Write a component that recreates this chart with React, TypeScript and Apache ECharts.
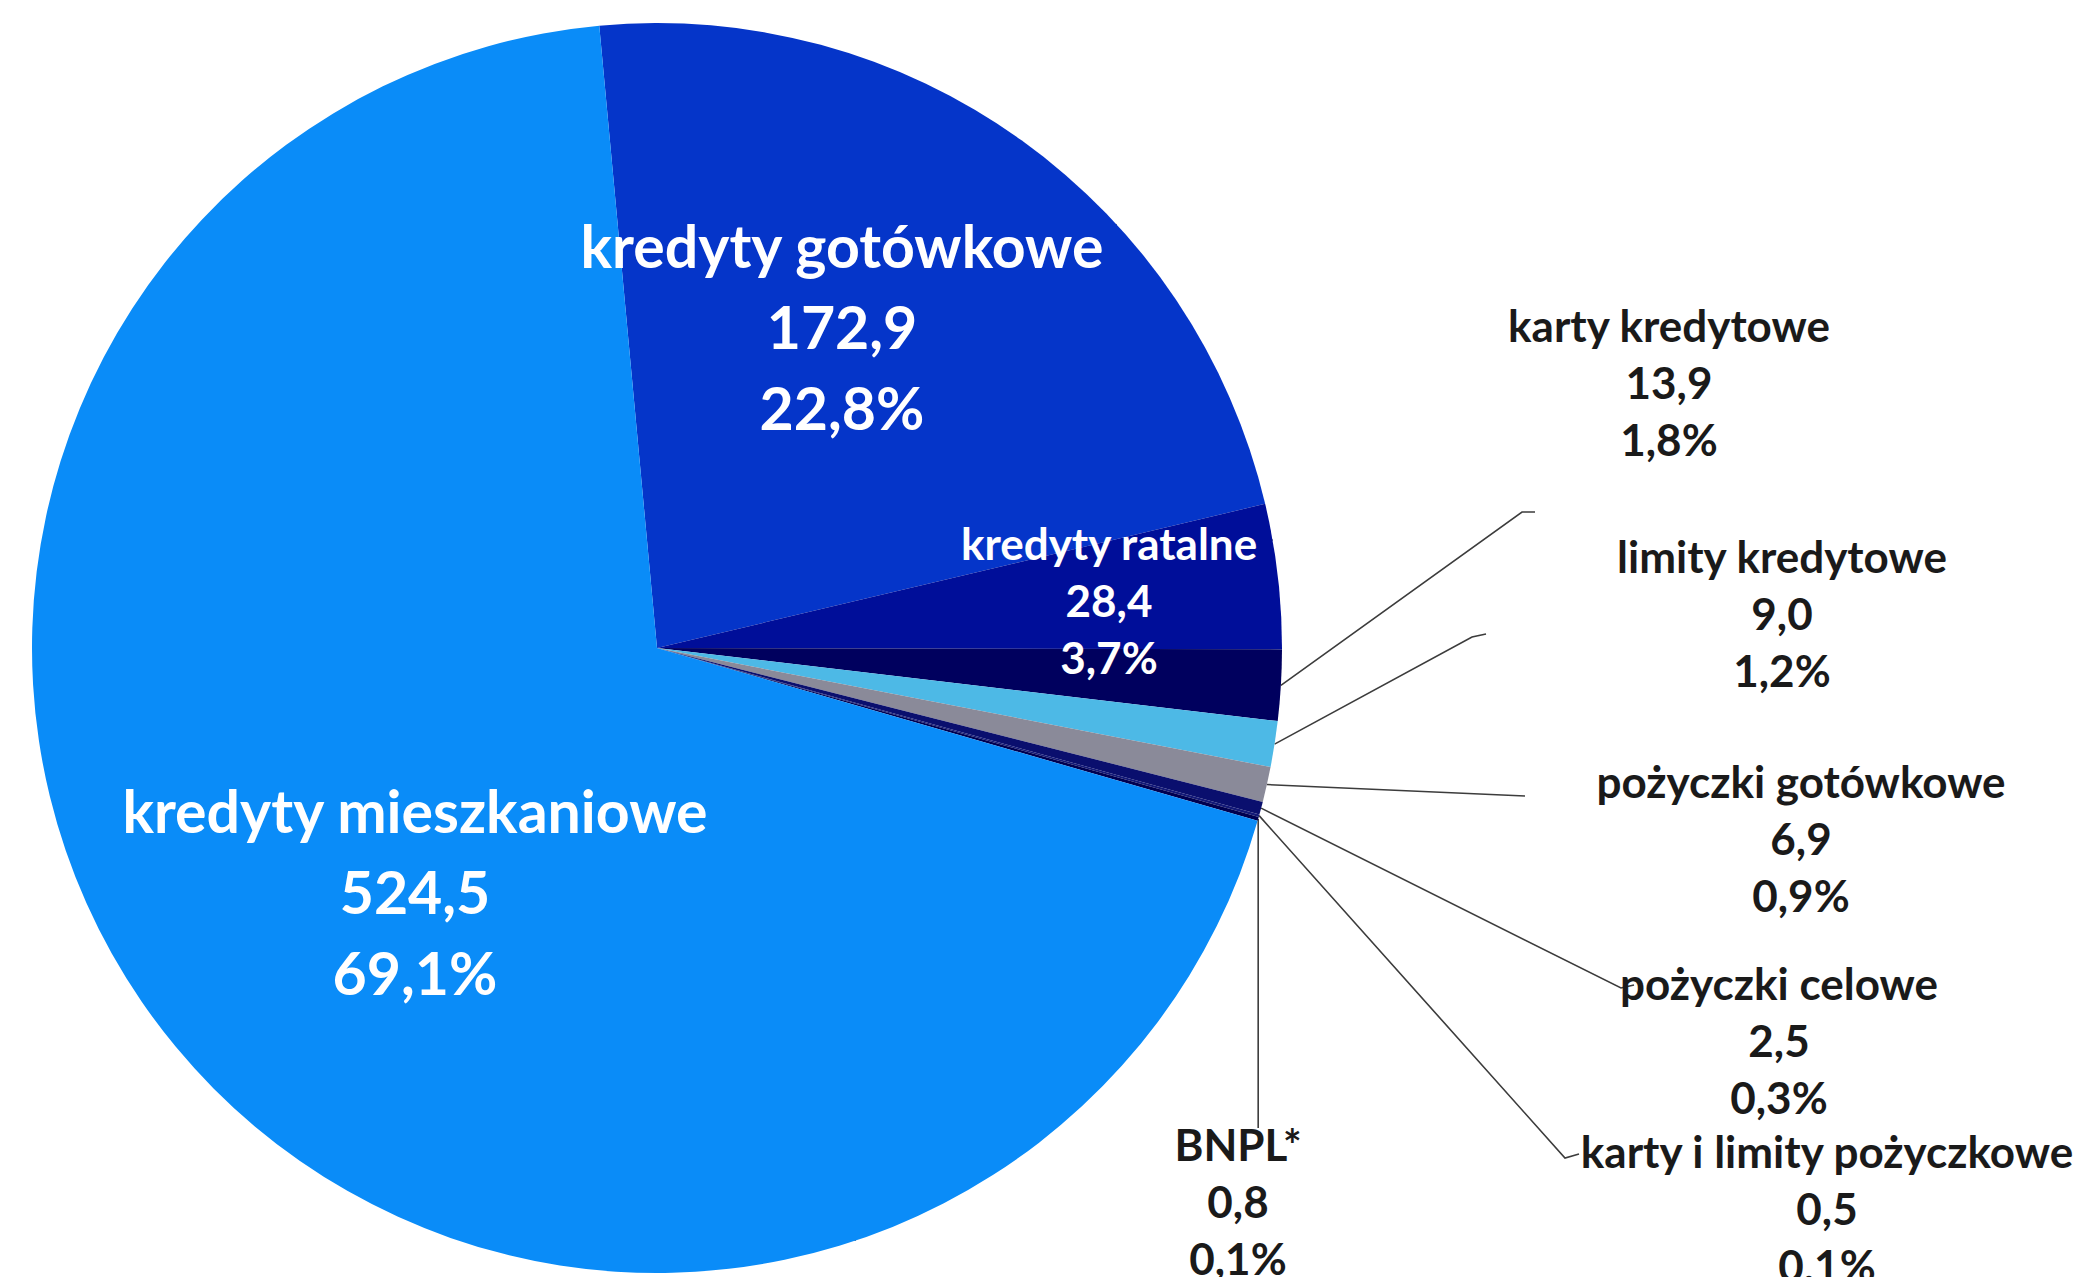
import React, { useEffect, useRef } from "react";
import * as echarts from "echarts";

// ---- data ----
const categories = [
  "kredyty gotówkowe",
  "kredyty ratalne",
  "karty kredytowe",
  "limity kredytowe",
  "pożyczki gotówkowe",
  "pożyczki celowe",
  "karty i limity pożyczkowe",
  "BNPL*",
  "kredyty mieszkaniowe",
];
const values = [172.9, 28.4, 13.9, 9.0, 6.9, 2.5, 0.5, 0.8, 524.5];

// ---- styles ----
const sliceColors = [
  "#0535C9",
  "#000E99",
  "#00005E",
  "#4DB9E6",
  "#8A8A99",
  "#0A0F6E",
  "#141A78",
  "#000050",
  "#0A8CF8",
];
// label kind: "big" inside large, "mid" inside medium, "out" outside dark
const labelKinds = ["big", "mid", "out", "out", "out", "out", "out", "out", "big"];

// ---- label layout (block centre) ----
const labelCenters: number[][] = [
  [842, 326],
  [1109, 600],
  [1669, 382],
  [1782, 613],
  [1801, 838],
  [1779, 1040],
  [1827, 1208],
  [1238, 1201],
  [415, 891],
];
// leader line: corner point then end point; null x means "keep start x"
const leaderPaths: (number | null)[][][] = [
  [],
  [],
  [[1522, 512], [1535, 512]],
  [[1472, 637], [1486, 634]],
  [[1525, 796]],
  [[1621, 988], [1634, 985]],
  [[1565, 1158], [1579, 1154]],
  [[null, 1128]],
  [],
];

const fmtNum = (v: number) => v.toFixed(1).replace(".", ",");

export default function App() {
  const ref = useRef<HTMLDivElement>(null);

  useEffect(() => {
    if (!ref.current) return;
    const chart = echarts.init(ref.current, null, { renderer: "svg" });

    const data = categories.map((name, i) => {
      const kind = labelKinds[i];
      const label =
        kind === "big"
          ? { position: "inside", color: "#FFFFFF", fontSize: 59, lineHeight: 81 }
          : kind === "mid"
          ? { position: "inside", color: "#FFFFFF", fontSize: 44, lineHeight: 57 }
          : { position: "outside", color: "#1A1A1A", fontSize: 44, lineHeight: 57 };
      return {
        name,
        value: values[i],
        itemStyle: { color: sliceColors[i] },
        label,
      };
    });

    chart.setOption({
      animation: false,
      backgroundColor: "#FFFFFF",
      series: [
        {
          type: "pie",
          center: [657, 648],
          radius: 625,
          startAngle: 95.3,
          clockwise: true,
          avoidLabelOverlap: false,
          silent: true,
          itemStyle: { borderWidth: 0 },
          label: {
            show: true,
            fontFamily: "Lato",
            fontWeight: "bold",
            align: "center",
            formatter: (p: any) =>
              `${p.name}\n${fmtNum(p.value)}\n${fmtNum(p.percent)}%`,
          },
          labelLine: {
            show: true,
            smooth: false,
            lineStyle: { color: "#3C3C3C", width: 1.6 },
          },
          labelLayout: (params: any) => {
            const i = params.dataIndex;
            const c = labelCenters[i];
            const res: any = {
              x: c[0],
              y: c[1],
              align: "center",
              verticalAlign: "middle",
            };
            const path = leaderPaths[i];
            if (path.length && params.labelLinePoints && params.labelLinePoints.length) {
              const start = params.labelLinePoints[0];
              const pts = [start.slice()];
              path.forEach((p) => {
                pts.push([p[0] == null ? start[0] : p[0], p[1] == null ? start[1] : p[1]]);
              });
              res.labelLinePoints = pts;
            }
            return res;
          },
          data,
        },
      ],
    });

    return () => chart.dispose();
  }, []);

  return (
    <div
      ref={ref}
      style={{ position: "fixed", left: 0, top: 0, width: 2080, height: 1277 }}
    />
  );
}
